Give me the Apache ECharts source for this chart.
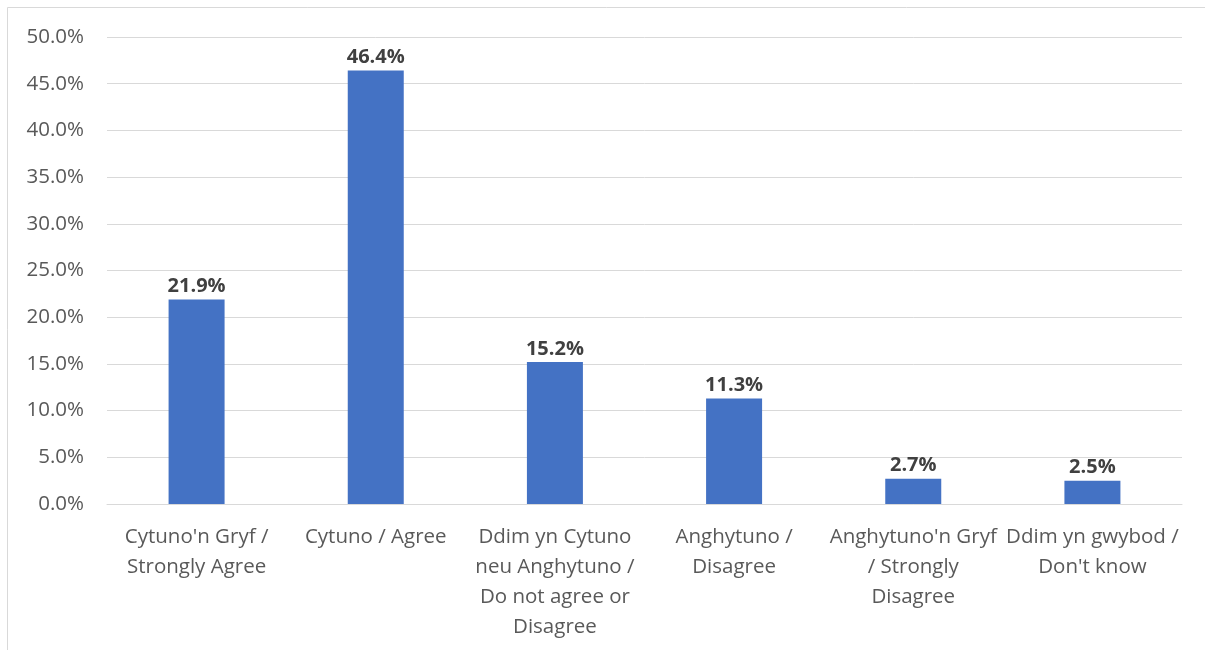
<!DOCTYPE html>
<html lang="en">

<head>
  <meta charset="UTF-8" />
  <title>Bar chart</title>
  <script src="https://cdn.jsdelivr.net/npm/echarts@6/dist/echarts.min.js"></script>
</head>

<body style="margin: 0; overflow: hidden;">
  <div id="panel" style="width: 1205px; height: 650px;"></div>
  <script>
    var categories = [
      "Cytuno'n Gryf /\nStrongly Agree",
      "Cytuno / Agree",
      "Ddim yn Cytuno\nneu Anghytuno /\nDo not agree or\nDisagree",
      "Anghytuno /\nDisagree",
      "Anghytuno'n Gryf\n/ Strongly\nDisagree",
      "Ddim yn gwybod /\nDon't know"
    ];
    var values = [21.9, 46.4, 15.2, 11.3, 2.7, 2.5];

    var myChart = echarts.init(document.getElementById("panel"));
    var font = "'Open Sans', 'Noto Sans', sans-serif";

    var option = {
      backgroundColor: '#fff',
      animation: false,
      graphic: [{
        type: 'rect',
        shape: { x: 7.5, y: 7.5, width: 1210, height: 660 },
        style: { fill: 'none', stroke: '#d9d9d9', lineWidth: 1 },
        silent: true
      }],
      grid: { left: 107, right: 23, top: 37, bottom: 146 },
      xAxis: {
        type: 'category',
        data: categories,
        axisLine: { show: true, lineStyle: { color: '#d9d9d9', width: 1 } },
        axisTick: { show: false },
        axisLabel: {
          interval: 0,
          color: '#595959',
          fontFamily: font,
          fontSize: 20.5,
          lineHeight: 30,
          margin: 18
        }
      },
      yAxis: {
        type: 'value',
        min: 0,
        max: 50,
        interval: 5,
        axisLine: { show: false },
        axisTick: { show: false },
        splitLine: { lineStyle: { color: '#d9d9d9', width: 1 } },
        axisLabel: {
          color: '#595959',
          fontFamily: font,
          fontSize: 20.5,
          margin: 23,
          formatter: function (v) { return v.toFixed(1) + '%'; }
        }
      },
      series: [{
        type: 'bar',
        data: values,
        barWidth: 56,
        itemStyle: { color: '#4472C4' },
        label: {
          show: true,
          position: 'top',
          distance: 3,
          color: '#404040',
          fontFamily: font,
          fontWeight: 'bold',
          fontSize: 20,
          formatter: function (p) { return p.value.toFixed(1) + '%'; }
        }
      }]
    };

    myChart.setOption(option);
  </script>
</body>

</html>
